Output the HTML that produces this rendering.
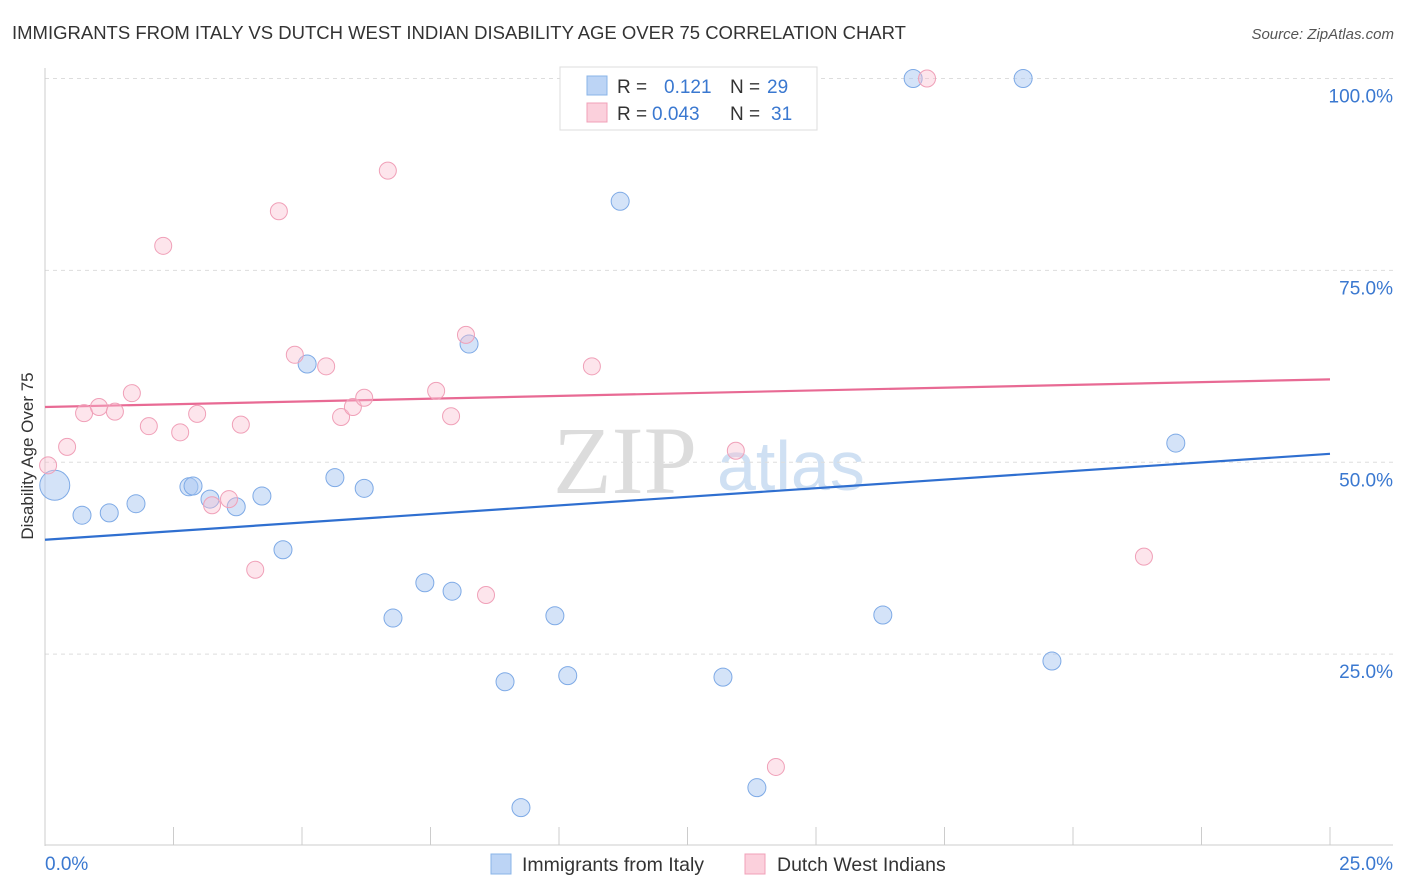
<!DOCTYPE html>
<html><head><meta charset="utf-8"><style>
body{margin:0;background:#fff;font-family:"Liberation Sans",sans-serif}
svg{display:block}
</style></head><body>
<svg id="c" width="1406" height="892">
<text x="12" y="39" font-size="18.5" fill="#333">IMMIGRANTS FROM ITALY VS DUTCH WEST INDIAN DISABILITY AGE OVER 75 CORRELATION CHART</text>
<text x="1394" y="39" font-size="15" fill="#555" font-style="italic" text-anchor="end">Source: ZipAtlas.com</text>
<g>
<text x="553" y="493" font-size="96" fill="#dcdcdc" font-family="Liberation Serif,serif">ZIP</text>
<text x="717" y="490" font-size="70" fill="#cfe0f3">atlas</text>
</g>
<g id="grid"></g><g id="axes"></g><g id="lines"></g><g id="pts"></g>
<g>
<rect x="560" y="67" width="257" height="63" fill="#fff" stroke="#ddd"/>
<rect x="587" y="76" width="20" height="19" fill="#bcd4f5" stroke="#8ab4e8"/>
<rect x="587" y="103" width="20" height="19" fill="#fbd0dc" stroke="#f0a0b8"/>
<text x="617" y="93" font-size="19" fill="#333">R = <tspan x="664" fill="#3a78d0">0.121</tspan><tspan x="730" fill="#333">N = </tspan><tspan x="767" fill="#3a78d0">29</tspan></text>
<text x="617" y="120" font-size="19" fill="#333">R = <tspan x="652" fill="#3a78d0">0.043</tspan><tspan x="730" fill="#333">N = </tspan><tspan x="771" fill="#3a78d0">31</tspan></text>
</g>
<g>
<rect x="491" y="854" width="20" height="20" fill="#bcd4f5" stroke="#8ab4e8"/>
<text x="522" y="871" font-size="19.5" fill="#333">Immigrants from Italy</text>
<rect x="745" y="854" width="20" height="20" fill="#fbd0dc" stroke="#f0a0b8"/>
<text x="777" y="871" font-size="19.5" fill="#333">Dutch West Indians</text>
</g>
<text transform="translate(33,456) rotate(-90)" font-size="17" fill="#333" text-anchor="middle">Disability Age Over 75</text>
</svg>
<script>
const blueX=[0.19,0.72,1.25,1.77,2.80,2.88,3.21,3.72,4.22,4.63,5.10,5.64,6.21,6.77,7.39,7.92,8.25,8.95,9.26,9.92,10.17,11.19,13.19,13.85,16.30,16.89,19.03,19.59,22.0];
const blueY=[47.0,43.1,43.4,44.6,46.8,46.9,45.2,44.2,45.6,38.6,62.8,48.0,46.6,29.7,34.3,33.2,65.4,21.4,5.0,30.0,22.2,84.0,22.0,7.6,30.1,100,100,24.1,52.5];
const blueR=[15,9,9,9,9,9,9,9,9,9,9,9,9,9,9,9,9,9,9,9,9,9,9,9,9,9,9,9,9];
const pinkX=[0.06,0.43,0.76,1.05,1.36,1.69,2.02,2.30,2.63,2.96,3.25,3.58,3.81,4.09,4.55,4.86,5.47,5.76,5.99,6.21,6.67,7.61,7.90,8.19,8.58,10.64,12.80,13.44,14.22,17.16,21.38];
const pinkY=[49.6,52.0,56.4,57.2,56.6,59.0,54.7,78.2,53.9,56.3,44.4,45.2,54.9,36.0,82.7,64.0,62.5,55.9,57.2,58.4,88.0,59.3,56.0,66.6,32.7,62.5,99.8,51.5,10.3,100,37.7];
const blueTrend=[39.9,51.1];
const pinkTrend=[57.2,60.8];
const yTicks=[100,75,50,25];
const yTickLabels=["100.0%","75.0%","50.0%","25.0%"];
const xTicks=[0,2.5,5,7.5,10,12.5,15,17.5,20,22.5,25];
const NS="http://www.w3.org/2000/svg";
const sx=v=>45+v/25*1285;
const sy=v=>846-v/100*767.5;
function mk(tag,attrs,parent){const e=document.createElementNS(NS,tag);for(const k in attrs)e.setAttribute(k,attrs[k]);document.getElementById(parent).appendChild(e);return e;}
yTicks.forEach((t,i)=>{
 const l=mk('line',{x1:45,x2:1393,y1:sy(t),y2:sy(t),stroke:'#ddd','stroke-dasharray':'4,4'},'grid');
 
 
 const tx=mk('text',{x:1393,y:sy(t)+24,'font-size':19,fill:'#3a78d0','text-anchor':'end'},'grid');
 tx.textContent=yTickLabels[i];
 
 
});
let a=mk('line',{x1:45,x2:45,y1:68,y2:846,stroke:'#ccc'},'axes');


a=mk('line',{x1:45,x2:1393,y1:845,y2:845,stroke:'#ccc'},'axes');


xTicks.forEach(t=>{
 const l=mk('line',{x1:sx(t),x2:sx(t),y1:827,y2:845,stroke:'#ccc'},'axes');
 
 
});
let t0=mk('text',{x:45,y:870,'font-size':19,fill:'#3a78d0'},'axes');t0.textContent='0.0%';


let t1=mk('text',{x:1393,y:870,'font-size':19,fill:'#3a78d0','text-anchor':'end'},'axes');t1.textContent='25.0%';


blueX.forEach((x,i)=>{
 const c=mk('circle',{cx:sx(x),cy:sy(blueY[i]),r:blueR[i],fill:'rgba(170,200,242,0.5)',stroke:'#7eaae6','stroke-width':1},'pts');
 
 
});
pinkX.forEach((x,i)=>{
 const c=mk('circle',{cx:sx(x),cy:sy(pinkY[i]),r:8.5,fill:'rgba(250,190,208,0.4)',stroke:'#f0a0b8','stroke-width':1},'pts');
 
 
});
let bl=mk('line',{x1:sx(0),x2:sx(25),y1:sy(blueTrend[0]),y2:sy(blueTrend[1]),stroke:'#2f6fd0','stroke-width':2.2},'lines');


let pl=mk('line',{x1:sx(0),x2:sx(25),y1:sy(pinkTrend[0]),y2:sy(pinkTrend[1]),stroke:'#e86a94','stroke-width':2.2},'lines');


</script>
</body></html>
